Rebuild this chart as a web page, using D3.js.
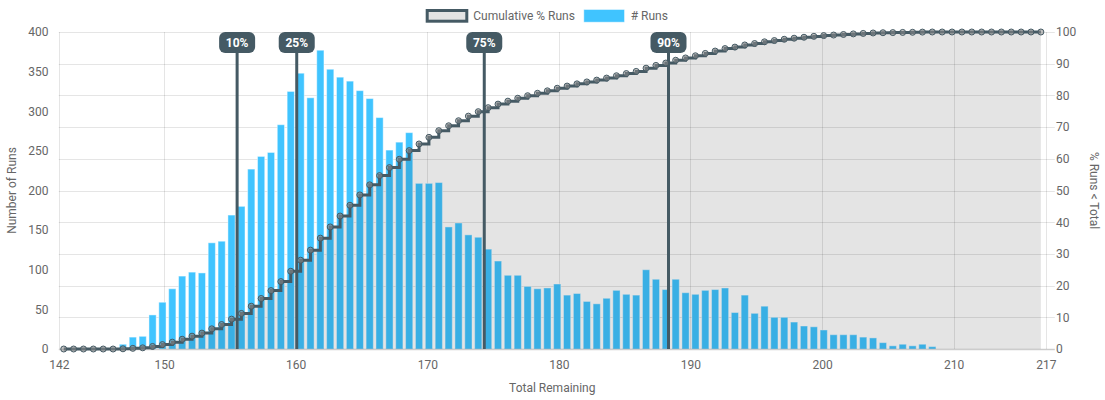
<!DOCTYPE html>
<html>
<head>
<meta charset="utf-8">
<script src="https://cdn.jsdelivr.net/npm/d3@7"></script>
<style>
  html, body { margin: 0; padding: 0; background: #fff; }
  svg { display: block; font-family: Roboto, "Noto Sans", sans-serif; }
</style>
</head>
<body>
<svg id="chart" width="1105" height="400"></svg>
<script>
// ---- data ----
const binCenters = [
  142.375,143.125,143.875,144.625,145.375,146.125,146.875,147.625,148.375,149.125,
  149.875,150.625,151.375,152.125,152.875,153.625,154.375,155.125,155.875,156.625,
  157.375,158.125,158.875,159.625,160.375,161.125,161.875,162.625,163.375,164.125,
  164.875,165.625,166.375,167.125,167.875,168.625,169.375,170.125,170.875,171.625,
  172.375,173.125,173.875,174.625,175.375,176.125,176.875,177.625,178.375,179.125,
  179.875,180.625,181.375,182.125,182.875,183.625,184.375,185.125,185.875,186.625,
  187.375,188.125,188.875,189.625,190.375,191.125,191.875,192.625,193.375,194.125,
  194.875,195.625,196.375,197.125,197.875,198.625,199.375,200.125,200.875,201.625,
  202.375,203.125,203.875,204.625,205.375,206.125,206.875,207.625,208.375,209.125,
  209.875,210.625,211.375,212.125,212.875,213.625,214.375,215.125,215.875,216.625
];
const runs = [
  0,0,0,0,0,0,6,15,16,43,
  59,76,92,97,96,134,136,169,180,227,
  243,248,283,325,348,317,377,353,343,338,
  326,316,292,251,261,273,209,209,210,154,
  159,144,141,126,111,93,93,79,76,77,
  82,68,70,60,57,64,74,69,68,100,
  88,75,88,71,69,74,75,77,46,68,
  45,54,40,40,34,29,28,24,18,18,
  18,15,14,8,4,6,4,6,3,0,
  0,0,0,0,0,0,0,0,0,0
];
const cumulativePct = [
  0,0,0,0,0,0,0.06,0.21,0.37,0.80,
  1.39,2.16,3.08,4.05,5.01,6.36,7.72,9.42,11.22,13.50,
  15.93,18.42,21.26,24.52,28.01,31.19,34.97,38.51,41.95,45.34,
  48.61,51.78,54.70,57.22,59.84,62.58,64.67,66.77,68.87,70.42,
  72.01,73.46,74.87,76.13,77.25,78.18,79.11,79.90,80.67,81.44,
  82.26,82.94,83.64,84.25,84.82,85.46,86.20,86.89,87.57,88.58,
  89.46,90.21,91.09,91.81,92.50,93.24,93.99,94.77,95.23,95.91,
  96.36,96.90,97.30,97.70,98.04,98.34,98.62,98.86,99.04,99.22,
  99.40,99.55,99.69,99.77,99.81,99.87,99.91,99.97,100,100,
  100,100,100,100,100,100,100,100,100,100
];
const percentileLabels = ["10%", "25%", "75%", "90%"];
const percentileValues = [155.55, 160.08, 174.33, 188.33];
const xTickValues = [142, 150, 160, 170, 180, 190, 200, 210, 217];
const yLeftTicks = [0, 50, 100, 150, 200, 250, 300, 350, 400];
const yRightTicks = [0, 10, 20, 30, 40, 50, 60, 70, 80, 90, 100];

// ---- layout ----
const L = 58.8, R = 1045.8, T = 32, B = 349;
const svg = d3.select("#chart");
const x = d3.scaleLinear().domain([142, 217]).range([L, R]);
const yL = d3.scaleLinear().domain([0, 400]).range([B, T]);
const yR = d3.scaleLinear().domain([0, 100]).range([B, T]);

const data = binCenters.map((c, i) => ({ x: c, v: runs[i], c: cumulativePct[i] }));

const gridColor = "rgba(0,0,0,0.1)";
const textColor = "#666";

// grid: horizontal (right axis), with tick marks to the right
const grid = svg.append("g");
grid.selectAll("line.h").data(yRightTicks.filter(t => t > 0)).join("line")
  .attr("x1", L).attr("x2", R + 9)
  .attr("y1", d => Math.round(yR(d)) + 0.5).attr("y2", d => Math.round(yR(d)) + 0.5)
  .attr("stroke", gridColor).attr("stroke-width", 1);
// vertical grid
grid.selectAll("line.v").data(xTickValues).join("line")
  .attr("x1", d => Math.round(x(d)) + 0.5).attr("x2", d => Math.round(x(d)) + 0.5)
  .attr("y1", T).attr("y2", B)
  .attr("stroke", gridColor).attr("stroke-width", 1);

// bars
const barW = 7.2;
svg.append("g").selectAll("rect").data(data.filter(d => d.v > 0)).join("rect")
  .attr("x", d => x(d.x) - barW / 2)
  .attr("width", barW)
  .attr("y", d => yL(d.v))
  .attr("height", d => yL(0) - yL(d.v))
  .attr("fill", "#40c4ff")
  .attr("stroke", "rgba(255,255,255,0.45)")
  .attr("stroke-width", 1);

// cumulative area (over bars)
const area = d3.area()
  .x(d => x(d.x)).y0(yR(0)).y1(d => yR(d.c))
  .curve(d3.curveStepAfter);
svg.append("path").datum(data)
  .attr("d", area)
  .attr("fill", "rgba(0,0,0,0.105)");

// zero line
svg.append("line")
  .attr("x1", L).attr("x2", R + 9).attr("y1", B + 0.5).attr("y2", B + 0.5)
  .attr("stroke", "rgba(0,0,0,0.2)").attr("stroke-width", 1.5);

// percentile lines
const pg = svg.append("g");
percentileValues.forEach((v, i) => {
  const cx = x(v);
  pg.append("line")
    .attr("x1", cx).attr("x2", cx).attr("y1", 50).attr("y2", B)
    .attr("stroke", "#455a64").attr("stroke-width", 3);
});

// cumulative line
const line = d3.line().x(d => x(d.x)).y(d => yR(d.c)).curve(d3.curveStepAfter);
svg.append("path").datum(data)
  .attr("d", line)
  .attr("fill", "none")
  .attr("stroke", "#455a64")
  .attr("stroke-width", 3)
  .attr("stroke-linejoin", "miter");

// points
svg.append("g").selectAll("circle").data(data).join("circle")
  .attr("cx", d => x(d.x)).attr("cy", d => yR(d.c)).attr("r", 3)
  .attr("fill", "rgba(140,140,140,0.55)")
  .attr("stroke", "#455a64").attr("stroke-width", 1);

// percentile labels
percentileValues.forEach((v, i) => {
  const cx = x(v);
  pg.append("rect")
    .attr("x", cx - 18).attr("y", 32).attr("width", 36).attr("height", 21)
    .attr("rx", 6).attr("ry", 6)
    .attr("fill", "#455a64");
  pg.append("text")
    .attr("x", cx).attr("y", 46.5)
    .attr("text-anchor", "middle")
    .attr("font-size", 12).attr("font-weight", "bold")
    .attr("fill", "#fff")
    .text(percentileLabels[i]);
});

// axes labels
const xAxis = d3.axisBottom(x).tickValues(xTickValues).tickSize(0).tickPadding(0).tickFormat(d3.format("d"));
const gx = svg.append("g").attr("transform", `translate(0,${B})`).call(xAxis);
gx.select(".domain").remove();
gx.selectAll("text").attr("font-size", 12).attr("fill", textColor)
  .attr("font-family", "Roboto, sans-serif").attr("dy", null).attr("y", 19.5);

const yAxisL = d3.axisLeft(yL).tickValues(yLeftTicks).tickSize(0).tickPadding(0);
const gyl = svg.append("g").attr("transform", `translate(48.5,0)`).call(yAxisL);
gyl.select(".domain").remove();
gyl.selectAll("text").attr("font-size", 12).attr("fill", textColor)
  .attr("font-family", "Roboto, sans-serif");

const yAxisR = d3.axisRight(yR).tickValues(yRightTicks).tickSize(0).tickPadding(0);
const gyr = svg.append("g").attr("transform", `translate(1056,0)`).call(yAxisR);
gyr.select(".domain").remove();
gyr.selectAll("text").attr("font-size", 12).attr("fill", textColor)
  .attr("font-family", "Roboto, sans-serif");

// axis titles
svg.append("text")
  .attr("transform", `translate(16,${(T + B) / 2}) rotate(-90)`)
  .attr("text-anchor", "middle").attr("font-size", 12).attr("fill", textColor)
  .text("Number of Runs");
svg.append("text")
  .attr("transform", `translate(1090,${(T + B) / 2}) rotate(90)`)
  .attr("text-anchor", "middle").attr("font-size", 12).attr("fill", textColor)
  .text("% Runs < Total");
svg.append("text")
  .attr("x", (L + R) / 2).attr("y", 391.5)
  .attr("text-anchor", "middle").attr("font-size", 12).attr("fill", textColor)
  .text("Total Remaining");

// legend
const lg = svg.append("g");
lg.append("rect").attr("x", 427.2).attr("y", 10.5).attr("width", 39.6).attr("height", 10.7)
  .attr("fill", "#e4e4e4").attr("stroke", "#455a64").attr("stroke-width", 3);
lg.append("text").attr("x", 473.3).attr("y", 20).attr("font-size", 12).attr("fill", textColor)
  .text("Cumulative % Runs");
lg.append("rect").attr("x", 583.8).attr("y", 9.5).attr("width", 40.7).attr("height", 12.7)
  .attr("fill", "#40c4ff").attr("stroke", "rgba(255,255,255,0.45)").attr("stroke-width", 1);
lg.append("text").attr("x", 630.7).attr("y", 20).attr("font-size", 12).attr("fill", textColor)
  .text("# Runs");
</script>
</body>
</html>
